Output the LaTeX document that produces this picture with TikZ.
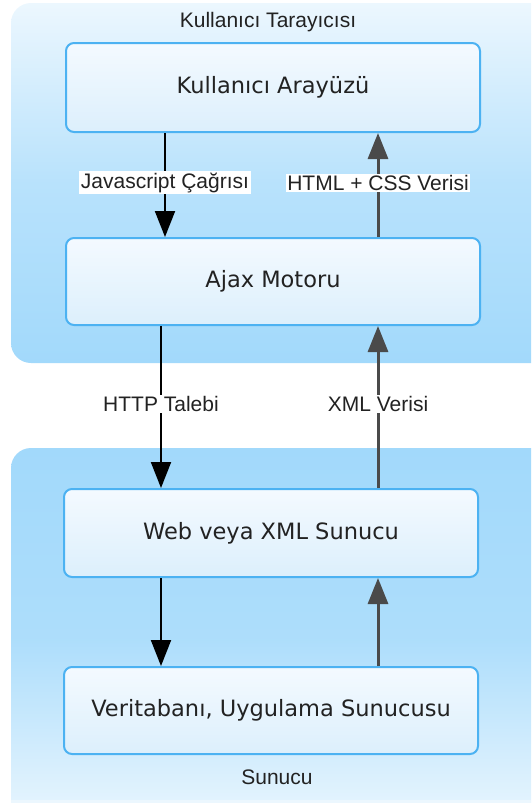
\documentclass[tikz,border=0pt]{standalone}
\usepackage{fontspec}
\setmainfont{Liberation Sans}
\newfontfamily\boxfont{DejaVu Sans}
\usetikzlibrary{arrows.meta}
\definecolor{panelLight}{HTML}{ECF7FE}
\definecolor{panelDark}{HTML}{A2D9FB}
\definecolor{boxTop}{HTML}{F4FAFF}
\definecolor{boxBot}{HTML}{DCEFFC}
\definecolor{boxLine}{HTML}{4CB2F2}
\definecolor{txt}{HTML}{222222}
\definecolor{grayArrow}{HTML}{4A4A4A}
\tikzset{
  panel/.style={rounded corners=20pt, draw=none},
  layerbox/.style={draw=boxLine, line width=2pt, rounded corners=8pt,
    top color=boxTop, bottom color=boxBot, minimum width=414pt,
    minimum height=88pt, text=txt,
    font=\boxfont\fontsize{22.5}{27}\selectfont},
  title/.style={text=txt, font=\fontsize{21}{24}\selectfont},
  lbl/.style={text=txt, font=\fontsize{21}{24}\selectfont, inner sep=1.5pt},
  down/.style={line width=2pt, draw=black,
    -{Triangle[width=20pt,length=26pt]}},
  up/.style={line width=3pt, draw=grayArrow,
    -{Triangle[width=20pt,length=26pt]}}
}
\begin{document}
\begin{tikzpicture}[x=1pt,y=-1pt]
\useasboundingbox (0,0) rectangle (531,803);
\begin{scope}
\clip (0,0) rectangle (531,803);
\shade[panel, top color=panelLight, bottom color=panelDark, middle color=panelDark!70!panelLight]
  (11,3) rectangle (560,363);
\shade[panel, top color=panelDark, bottom color=panelLight, middle color=panelDark!85!panelLight]
  (11,448) rectangle (560,830);
\fill[panelLight] (11,800) rectangle (531,803);
\end{scope}
\node[title] (t1) at (268,22) {Kullanıcı Tarayıcısı};
\node[title] (t2) at (277,777) {Sunucu};

\node[layerbox, minimum height=89pt] (b1) at (273,87.5) {Kullanıcı Arayüzü};
\node[layerbox, minimum height=87pt] (b2) at (273,281.5) {Ajax Motoru};
\node[layerbox] (b3) at (271,533) {Web veya XML Sunucu};
\node[layerbox, minimum height=87pt] (b4) at (271,710.5) {Veritabanı, Uygulama Sunucusu};

\coordinate (xl1) at (165,0);
\coordinate (xl2) at (161,0);
\coordinate (xr) at (378,0);

\draw[down] (b1.south -| xl1) -- node[lbl, fill=white, pos=0.48] {Javascript Çağrısı} (b2.north -| xl1);
\draw[up] (b2.north -| xr) -- node[lbl, fill=white, pos=0.52] {HTML + CSS Verisi} (b1.south -| xr);
\draw[down] (b2.south -| xl2) -- node[lbl, fill=white, pos=0.48] {HTTP Talebi} (b3.north -| xl2);
\draw[up] (b3.north -| xr) -- node[lbl, fill=white, pos=0.52] {XML Verisi} (b2.south -| xr);
\draw[down] (b3.south -| xl2) -- (b4.north -| xl2);
\draw[up] (b4.north -| xr) -- (b3.south -| xr);
\end{tikzpicture}
\end{document}
